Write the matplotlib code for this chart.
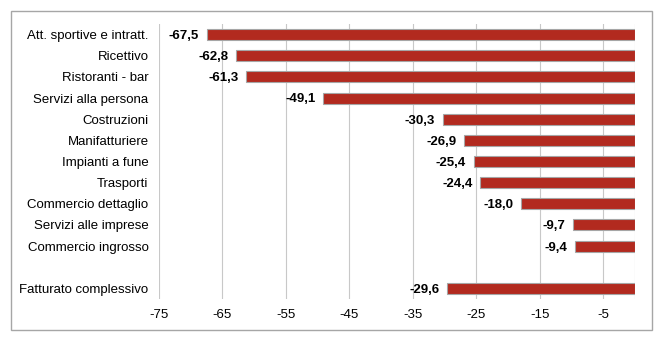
import matplotlib
matplotlib.use("Agg")
from matplotlib import pyplot as plt
from matplotlib.patches import Rectangle

plt.rcParams['font.family'] = ['Liberation Sans', 'DejaVu Sans']

categorie = ["Att. sportive e intratt.", "Ricettivo", "Ristoranti - bar",
             "Servizi alla persona", "Costruzioni", "Manifatturiere",
             "Impianti a fune", "Trasporti", "Commercio dettaglio",
             "Servizi alle imprese", "Commercio ingrosso"]
valori = [-67.5, -62.8, -61.3, -49.1, -30.3, -26.9, -25.4, -24.4, -18.0, -9.7, -9.4]
totale_nome = "Fatturato complessivo"
totale = -29.6
ticks_x = [-75, -65, -55, -45, -35, -25, -15, -5]

# posizioni: un posto vuoto prima del totale
nomi = categorie + [totale_nome]
vals = valori + [totale]
pos = list(range(len(categorie))) + [len(categorie) + 1]

fig = plt.figure(figsize=(6.62, 3.41), dpi=100)
ax = fig.add_axes([159/662, 1 - 299/341, (635 - 159)/662, (299 - 24)/341])

ax.barh(pos, vals, height=0.52, color='#B22A1F', edgecolor='#A6A6A6', linewidth=0.8, zorder=3)

for p, v in zip(pos, vals):
    txt = ("%.1f" % v).replace(".", ",")
    ax.annotate(txt, (v, p), xytext=(-5.5, -1), textcoords='offset points',
                ha='right', va='center', fontsize=9.5, fontweight='bold', color='black')

ax.set_xlim(-75, 0)
ax.set_ylim(len(categorie) + 1.5, -0.5)
ax.set_xticks(ticks_x + [0])
ax.set_xticklabels([str(t) for t in ticks_x] + [""], fontsize=9.5)
ax.set_yticks(pos)
ax.set_yticklabels(nomi, fontsize=9.5)
ax.tick_params(axis='y', length=0, pad=7.5)
ax.tick_params(axis='x', length=0, pad=7)
ax.grid(axis='x', color='#C8C8C8', linewidth=0.8, zorder=0)
for s in ax.spines.values():
    s.set_visible(False)

# cornice esterna
fig.patches.append(Rectangle((11/662, 1 - 330/341), (652 - 11)/662, (330 - 11)/341,
                             transform=fig.transFigure, fill=False,
                             edgecolor='#A6A6A6', linewidth=1.0))

fig.savefig("out.png", dpi=100)
